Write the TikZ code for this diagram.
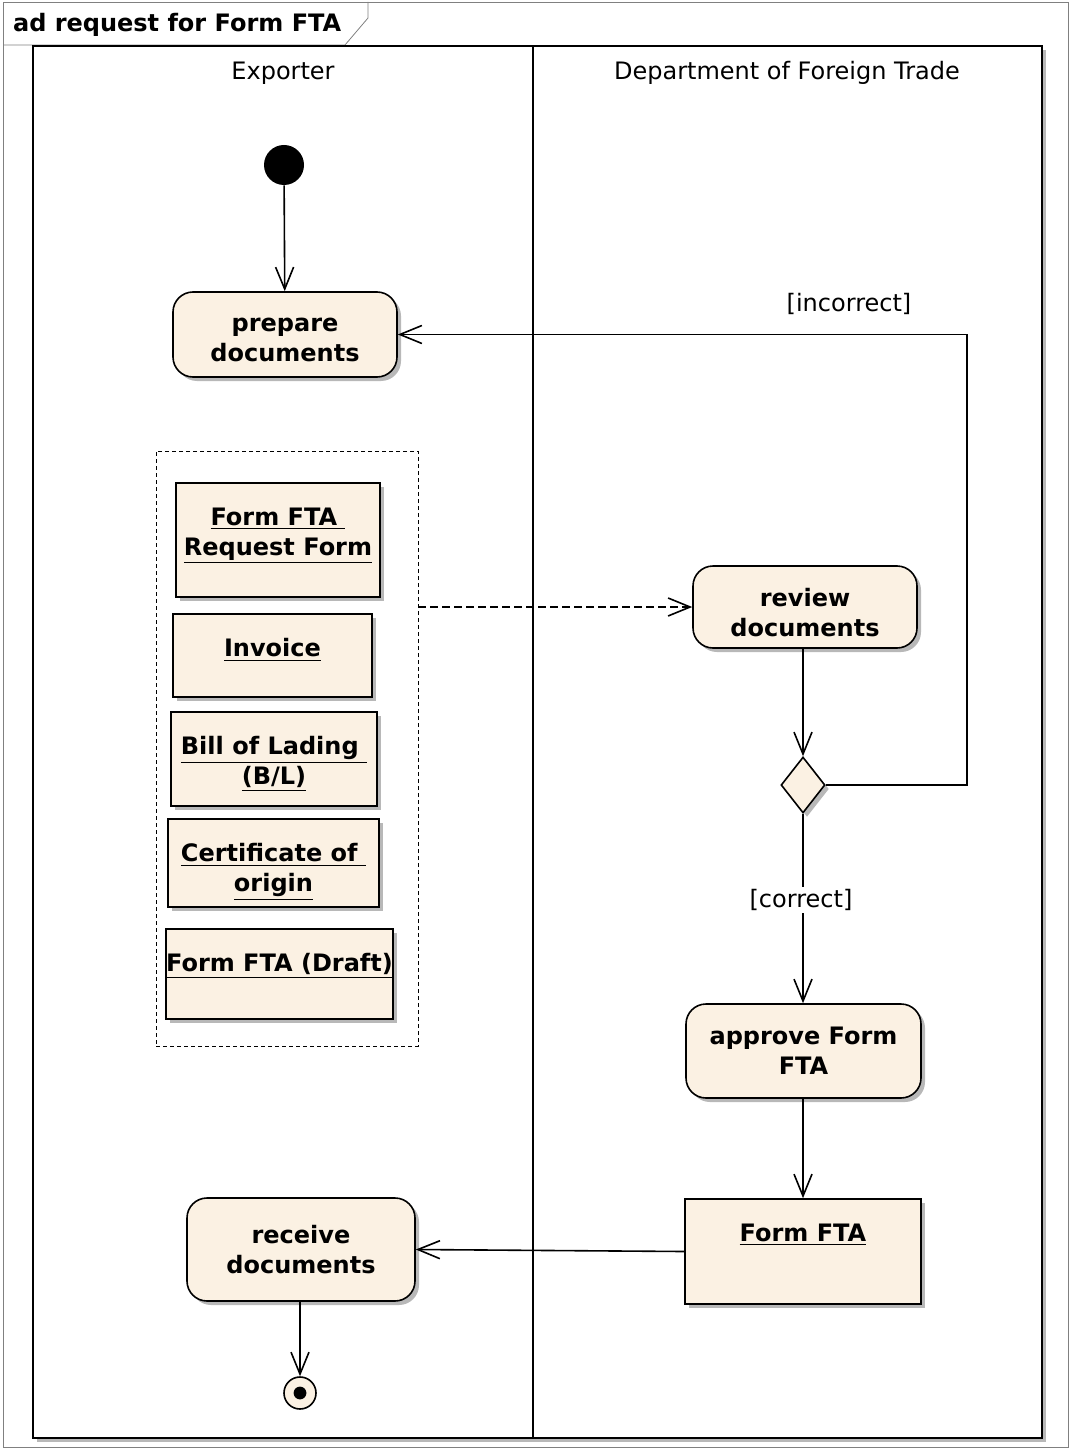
\documentclass[tikz,border=0pt]{standalone}
\usepackage{fontspec}
\setmainfont{DejaVu Sans}
\usetikzlibrary{positioning, arrows.meta, shapes.geometric, shadows}
\definecolor{actfill}{RGB}{251,241,227}
\definecolor{framegray}{RGB}{128,128,128}

\begin{document}
\begin{tikzpicture}
[x=0.5pt, y=-0.5pt, font=\fontsize{12}{15}\selectfont,
 shade/.style={drop shadow={shadow xshift=2pt, shadow yshift=-2pt, fill=black!28, opacity=1}},
 act/.style={rectangle, rounded corners=10pt, draw, line width=0.8pt, fill=actfill, shade,
   inner sep=2pt, align=center, font=\fontsize{12}{15}\selectfont\bfseries},
 obj/.style={rectangle, draw, line width=0.8pt, fill=actfill, shade, inner sep=0pt},
 objtxt/.style={anchor=north, yshift=-12.5pt, inner sep=0pt, align=center,
   font=\fontsize{12}{15}\selectfont\bfseries},
 init/.style={circle, fill=black, inner sep=0pt, minimum size=20pt},
 final/.style={circle, draw, line width=0.8pt, fill=actfill, inner sep=0pt, minimum size=16pt,
   path picture={\fill[black] (path picture bounding box.center) circle (3.2pt);}},
 dec/.style={diamond, draw, line width=0.8pt, fill=actfill, shade, inner sep=0pt,
   minimum width=22pt, minimum height=28pt},
 ->/.style={line width=0.8pt, arrows={-Straight Barb[length=11pt, width=9pt]}},
 every text node part/.style={align=center}]

\useasboundingbox (0,0) rectangle (1070,1449);

% frame, title tab and swimlanes
\draw[framegray] (3,2) rectangle (1068,1447);
\draw[framegray] (3,45) -- (345,45) -- (368,18) -- (368,2);
\node[anchor=west, font=\fontsize{12}{15}\selectfont\bfseries] (title) at (6,25) {ad request for Form FTA};
\draw[line width=0.8pt, fill=white, shade] (33,46) rectangle (1042,1438);
\draw[line width=0.8pt] (533,46) -- (533,1438);
\node (exp) at (283,73) {Exporter};
\node (dft) at (787,73) {Department of Foreign Trade};

% exporter lane
\node[init] (start) at (284,165) {};
\node[act, minimum width=112pt, minimum height=42.5pt, text height=27.5pt] (prep) at (285,334.5) {prepare\\documents};
\node[draw, dashed, dash pattern=on 2pt off 1.5pt, minimum width=131pt, minimum height=297.5pt] (docs) at (287,748.5) {};
\node[obj, minimum width=102pt, minimum height=57pt,
  label={[objtxt]north:\underline{Form FTA\ }\\\underline{Request Form}}] (req) at (278,540) {};
\node[obj, minimum width=99.5pt, minimum height=41.5pt,
  label={[objtxt]north:\underline{Invoice}}] (inv) at (272.5,655.5) {};
\node[obj, minimum width=103pt, minimum height=47pt,
  label={[objtxt]north:\underline{Bill of Lading\ }\\\underline{(B/L)}}] (bol) at (274,759) {};
\node[obj, minimum width=105.5pt, minimum height=44pt,
  label={[objtxt]north:\underline{Certificate of\ }\\\underline{origin}}] (coo) at (273.5,863) {};
\node[obj, minimum width=113.5pt, minimum height=45pt,
  label={[objtxt]north:\underline{Form FTA (Draft)}}] (drf) at (279.5,974) {};
\node[act, minimum width=114pt, minimum height=51.5pt] (recv) at (301,1249.5) {receive\\documents};
\node[final] (end) at (300,1393) {};

% department lane
\node[act, minimum width=112pt, minimum height=41pt, text height=30pt] (rev) at (805,607) {review\\documents};
\node[dec] (chk) at (803,785) {};
\node[act, minimum width=117.5pt, minimum height=47pt] (appr) at (803.5,1051) {approve Form\\FTA};
\node[obj, minimum width=118pt, minimum height=52.5pt,
  label={[objtxt]north:\underline{Form FTA}}] (fta) at (803,1251.5) {};

% flows
\draw[->] (start) -- (prep);
\draw[->, dashed, dash pattern=on 4pt off 2pt] (docs.east |- rev.west) -- (rev.west);
\draw[->] (rev.south -| chk.north) -- (chk.north);
\draw[->] (chk.east) -- ++(141,0) |- (prep.east);
\node (inc) at (849,304) {[incorrect]};
\draw[->] (chk.south) -- (appr.north -| chk.south);
\node[fill=white, inner sep=1pt] (cor) at (801,900) {[correct]};
\draw[->] (appr.south -| fta.north) -- (fta.north);
\draw[->] (fta.west) -- (recv.east);
\draw[->] (recv.south -| end.north) -- (end.north);

\end{tikzpicture}
\end{document}
